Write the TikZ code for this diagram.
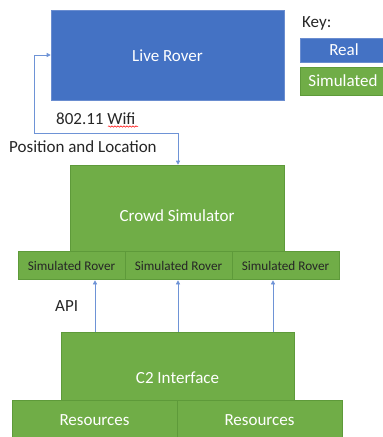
\documentclass[tikz,border=0pt]{standalone}
\usepackage{fontspec}
\setmainfont{Carlito}
\usetikzlibrary{arrows.meta,decorations.pathmorphing}
\definecolor{realblue}{HTML}{4472C4}
\definecolor{realedge}{HTML}{6A8DD0}
\definecolor{simgreen}{HTML}{70AD47}
\definecolor{simedge}{HTML}{5E9A3A}
\definecolor{linkblue}{HTML}{6E93D6}
\definecolor{txt}{HTML}{262626}
\tikzset{
  realbox/.style={draw=realedge, line width=0.6pt, fill=realblue, inner sep=0pt},
  simbox/.style={draw=simedge, line width=0.6pt, fill=simgreen, inner sep=0pt},
  whitetext/.style={text=white, font=\fontsize{17}{20}\selectfont, inner sep=0pt},
  darktext/.style={text=txt, font=\fontsize{17}{20}\selectfont, inner sep=0pt},
  smalltext/.style={text=txt, font=\fontsize{13.2}{16}\selectfont, inner sep=0pt},
  link/.style={draw=linkblue, line width=0.6pt},
  tip/.style={-{Triangle[length=4pt,width=4pt]}},
}
\begin{document}
\begin{tikzpicture}[x=1pt,y=-1pt]
\useasboundingbox (0,0) rectangle (383,437);
% Live Rover
\node[realbox, minimum width=233pt, minimum height=90pt] (live) at (167.5,55) {};
\node[whitetext] (livet) at (167.5,56) {Live Rover};
% Key
\node[darktext, anchor=west] (key) at (302,23) {Key:};
\node[realbox, minimum width=84pt, minimum height=24pt, anchor=north west] (kreal) at (300,38) {};
\node[whitetext] (krealt) at (344,50) {Real};
\node[simbox, minimum width=84pt, minimum height=28pt, anchor=north west] (ksim) at (300,67) {};
\node[whitetext] (ksimt) at (343,81) {Simulated};
% labels
\node[darktext, anchor=west] (wifi) at (56,119) {802.11 Wifi};
\coordinate (sq1) at (108,126.5);
\coordinate (sq2) at (138,126.5);
\draw[red, line width=0.5pt, decorate, decoration={snake, amplitude=0.7pt, segment length=3pt}] (sq1) -- (sq2);
\node[darktext, anchor=west] (pos) at (9,147) {Position and Location};
% Crowd Simulator
\node[simbox, minimum width=214pt, minimum height=86pt] (crowd) at (177,208) {};
\node[whitetext] (crowdt) at (177,216) {Crowd Simulator};
% Simulated rovers
\node[simbox, minimum width=107pt, minimum height=28pt] (sr1) at (71.5,265) {};
\node[simbox, minimum width=107pt, minimum height=28pt] (sr2) at (178.5,265) {};
\node[simbox, minimum width=107pt, minimum height=28pt] (sr3) at (285.5,265) {};
\node[smalltext] (sr1t) at (71.5,266) {Simulated Rover};
\node[smalltext] (sr2t) at (178.5,266) {Simulated Rover};
\node[smalltext] (sr3t) at (285.5,266) {Simulated Rover};
% C2 interface
\node[simbox, minimum width=233pt, minimum height=68pt] (c2) at (177.5,366) {};
\node[whitetext] (c2t) at (177.5,378) {C2 Interface};
\node[simbox, minimum width=165pt, minimum height=40pt, anchor=north west] (res1) at (12,400) {};
\node[simbox, minimum width=165pt, minimum height=40pt, anchor=north west] (res2) at (177,400) {};
\node[whitetext] (res1t) at (94.5,420) {Resources};
\node[whitetext] (res2t) at (259.5,420) {Resources};
\node[darktext, anchor=west] (api) at (55,306) {API};
% wifi connector
\coordinate (w1) at (34,55);
\coordinate (w2) at (34,133);
\coordinate (w3) at (178,133);
\draw[link, {Triangle[length=4pt,width=4pt]}-{Triangle[length=4pt,width=4pt]}]
  (live.west) -- (w1) -- (w2) -- (w3) -- (w3 |- crowd.north);
% API arrows
\coordinate (a1) at (95,300);
\coordinate (a2) at (178,300);
\coordinate (a3) at (273,300);
\draw[link, tip] (c2.north -| a1) -- ([yshift=-1pt]sr1.south -| a1);
\draw[link, tip] (c2.north -| a2) -- ([yshift=-1pt]sr2.south -| a2);
\draw[link, tip] (c2.north -| a3) -- ([yshift=-1pt]sr3.south -| a3);
\end{tikzpicture}
\end{document}
